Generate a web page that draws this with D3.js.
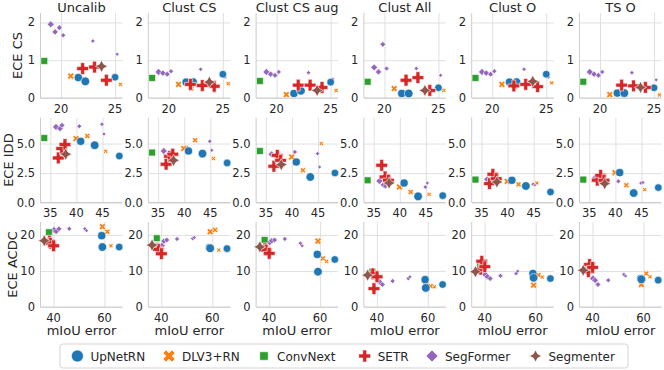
<!DOCTYPE html>
<html>
<head>
<meta charset="utf-8">
<script src="https://cdn.jsdelivr.net/npm/d3@7"></script>
<style>
  body { margin: 0; background: #fff; }
  text { font-family: "DejaVu Sans", sans-serif; fill: #262626; }
</style>
</head>
<body>
<svg width="664" height="370"></svg>
<script>
// column titles and row labels
const columns = ["Uncalib", "Clust CS", "Clust CS aug", "Clust All", "Clust O", "TS O"];
const rowLabels = ["ECE CS", "ECE IDD", "ECE ACDC"];
const modelNames = ["UpNetRN", "DLV3+RN", "ConvNext", "SETR", "SegFormer", "Segmenter"];

// one entry per model variant (same order in every array below)
const pointModel = [0, 0, 0, 1, 1, 1, 2, 3, 3, 3, 4, 4, 4, 4, 4, 4, 5];
const pointParams = [130, 150, 110, 75, 45, 15, 200, 310, 310, 310, 85, 64, 47, 27, 14, 4, 330];

// mIoU error per dataset
const errCS = [21.6, 22.25, 25.0, 20.9, 22.1, 25.5, 18.45, 22.0, 23.1, 24.2, 19.05, 19.45, 19.85, 20.2, 22.95, 25.2, 23.75];
const errIDD = [40.82, 43.5, 48.22, 39.92, 42.09, 45.61, 33.84, 36.53, 37.18, 37.81, 36.09, 36.86, 37.24, 40.55, 44.9, 45.28, 37.95];
const errACDC = [58.9, 59.17, 65.76, 59.17, 61.1, 62.55, 38.23, 38.39, 38.85, 40.04, 40.22, 41.05, 42.14, 46.17, 52.31, 52.95, 36.37];

// ECE per column (Uncalib, Clust CS, Clust CS aug, Clust All, Clust O, TS O)
const eceCS = [
  [0.54, 0.44, 0.55, 0.58, 0.5, 0.36, 0.98, 0.78, 0.82, 0.47, 1.95, 1.75, 1.86, 1.66, 1.51, 1.16, 0.84],
  [0.42, 0.42, 0.63, 0.36, 0.25, 0.38, 0.53, 0.36, 0.33, 0.31, 0.69, 0.66, 0.63, 0.71, 0.76, 0.55, 0.42],
  [0.12, 0.19, 0.42, 0.09, 0.2, 0.2, 0.45, 0.34, 0.34, 0.28, 0.69, 0.63, 0.6, 0.69, 0.67, 0.5, 0.2],
  [0.12, 0.12, 0.27, 0.25, 0.15, 0.2, 0.43, 0.47, 0.54, 0.2, 0.81, 0.69, 1.42, 0.78, 0.78, 0.6, 0.2],
  [0.42, 0.42, 0.63, 0.36, 0.3, 0.4, 0.53, 0.32, 0.36, 0.3, 0.69, 0.66, 0.63, 0.71, 0.76, 0.55, 0.44],
  [0.13, 0.13, 0.27, 0.09, 0.15, 0.08, 0.43, 0.34, 0.32, 0.28, 0.69, 0.63, 0.6, 0.69, 0.67, 0.48, 0.28]
];
const eceIDD = [
  [5.19, 4.86, 3.95, 5.42, 5.64, 4.35, 5.47, 3.78, 4.58, 4.92, 6.41, 6.27, 6.55, 6.47, 6.64, 5.81, 4.1],
  [4.37, 4.15, 3.36, 4.58, 5.28, 3.73, 4.24, 3.25, 3.92, 4.1, 4.37, 4.0, 3.8, 4.66, 5.19, 4.43, 3.58],
  [3.44, 2.17, 2.51, 3.86, 2.74, 5.0, 4.37, 3.08, 4.0, 3.58, 4.09, 3.92, 3.9, 4.29, 4.15, 3.02, 3.22],
  [1.66, 0.53, 0.59, 1.32, 0.9, 0.7, 1.89, 3.16, 2.17, 1.9, 1.83, 1.5, 1.4, 1.45, 1.32, 1.66, 1.66],
  [1.89, 1.41, 0.9, 1.8, 1.55, 1.66, 1.95, 1.61, 2.4, 2.03, 1.97, 1.9, 1.75, 1.8, 1.55, 1.5, 1.75],
  [2.54, 0.81, 1.27, 2.54, 1.47, 1.1, 1.95, 1.9, 2.31, 1.89, 2.08, 1.9, 1.8, 1.8, 1.66, 1.7, 1.61]
];
const eceACDC = [
  [19.8, 16.65, 16.65, 22.3, 20.9, 17.0, 20.75, 18.3, 17.7, 17.0, 21.4, 21.0, 21.7, 21.7, 21.7, 21.2, 18.4],
  [16.5, 16.3, 16.2, 20.9, 21.4, 15.8, 19.1, 16.3, 16.0, 14.8, 17.0, 18.3, 18.6, 18.9, 19.0, 19.3, 17.2],
  [14.6, 9.8, 13.2, 18.3, 13.5, 12.7, 18.6, 16.2, 15.8, 14.9, 17.95, 18.4, 18.6, 18.9, 17.7, 17.0, 16.7],
  [7.6, 5.3, 6.25, 6.0, 5.8, 5.6, 9.8, 9.2, 5.1, 8.4, 7.45, 7.0, 6.25, 7.2, 7.9, 8.4, 8.85],
  [9.3, 8.1, 7.9, 6.05, 8.85, 8.3, 11.45, 10.5, 12.7, 11.2, 9.0, 8.4, 7.9, 8.65, 9.3, 9.95, 9.8],
  [7.9, 7.7, 7.45, 6.25, 9.3, 8.4, 10.25, 9.8, 11.8, 11.0, 7.9, 7.4, 6.25, 7.45, 9.0, 8.6, 10.2]
];

// ticks and axis limits per row
const xTicks = [[20, 25], [35, 40, 45], [40, 60]];
const yTicks = [[0, 1, 2], [0, 2.5, 5], [0, 10, 20]];
const yTickText = [["0", "1", "2"], ["0.0", "2.5", "5.0"], ["0", "10", "20"]];
const xLimits = [[18.1, 25.69], [33.12, 48.83], [34.9, 67.06]];
const yLimits = [[0, 2.25], [0, 7.2], [0, 23.6]];

const errRows = [errCS, errIDD, errACDC];
const eceRows = [eceCS, eceIDD, eceACDC];

const colors = ["#1f77b4", "#ff7f0e", "#2ca02c", "#d62728", "#9467bd", "#8c564b"];
const shapes = ["circle", "x", "square", "plus", "diamond", "star"];
const drawOrder = [4, 1, 0, 2, 3, 5];

const svg = d3.select("svg");
const axW = 82, axH = 85;
const colLeft = i => 40.5 + i * 107.8;
const rowTop = [13, 117.6, 222];
const yLabelX = [22, 13, 17];

// marker area grows with model size, like seaborn's size semantic
const areaScale = d3.scaleLinear().domain([0, 340]).range([14, 150]);

function poly(pts, s) {
  const p = d3.path();
  pts.forEach((q, i) => i ? p.lineTo(q[0] * s, q[1] * s) : p.moveTo(q[0] * s, q[1] * s));
  p.closePath();
  return p.toString();
}

function markerPath(shape, span) {
  if (shape === "circle") {
    const p = d3.path();
    p.arc(0, 0, span / 2, 0, 2 * Math.PI);
    return p.toString();
  }
  if (shape === "square") {
    const h = span / 2 / Math.SQRT2;
    return poly([[-1, -1], [1, -1], [1, 1], [-1, 1]], h);
  }
  if (shape === "diamond") {
    return poly([[0, -0.5], [0.5, 0], [0, 0.5], [-0.5, 0]], span);
  }
  if (shape === "plus") {
    return poly([[-1, -3], [1, -3], [1, -1], [3, -1], [3, 1], [1, 1], [1, 3], [-1, 3], [-1, 1], [-3, 1], [-3, -1], [-1, -1]], span / 6);
  }
  if (shape === "x") {
    return poly([[-1, -2], [0, -1], [1, -2], [2, -1], [1, 0], [2, 1], [1, 2], [0, 1], [-1, 2], [-2, 1], [-1, 0], [-2, -1]], span / 4);
  }
  // four-pointed star
  const pts = [];
  for (let k = 0; k < 8; k++) {
    const a = -Math.PI / 2 + k * Math.PI / 4;
    const r = k % 2 ? 0.25 : 0.5;
    pts.push([r * Math.cos(a), r * Math.sin(a)]);
  }
  return poly(pts, span);
}

function gridOnly(g) {
  g.select(".domain").remove();
  g.selectAll(".tick line").attr("stroke", "#dcdcdc").attr("stroke-width", 0.9);
  g.selectAll(".tick text").remove();
}

const yLabelSpots = [];

eceRows.forEach((panels, r) => {
  const x = d3.scaleLinear().domain(xLimits[r]).range([0, axW]);
  const y = d3.scaleLinear().domain(yLimits[r]).range([axH, 0]);

  panels.forEach((vals, c) => {
    const left = colLeft(c);
    const g = svg.append("g").attr("transform", `translate(${left},${rowTop[r]})`);

    // grid lines from the axes
    g.append("g")
      .attr("transform", `translate(0,${axH})`)
      .call(d3.axisBottom(x).tickValues(xTicks[r]).tickSize(-axH))
      .call(gridOnly);
    g.append("g")
      .call(d3.axisLeft(y).tickValues(yTicks[r]).tickSize(-axW))
      .call(gridOnly);

    // x tick labels
    g.selectAll("text.xt")
      .data(xTicks[r])
      .enter()
      .append("text")
      .attr("class", "xt")
      .attr("x", d => x(d))
      .attr("y", axH + 14.5)
      .attr("text-anchor", "middle")
      .attr("font-size", 11.5)
      .text(d => String(d));

    // y tick label spots, drawn at the end
    yTicks[r].forEach((t, k) => {
      yLabelSpots.push({ x: left - 5.5, y: rowTop[r] + y(t) + 4, label: yTickText[r][k] });
    });

    // spines
    g.append("line").attr("x1", 0).attr("x2", 0).attr("y1", 0).attr("y2", axH)
      .attr("stroke", "#cccccc").attr("stroke-width", 1);
    g.append("line").attr("x1", 0).attr("x2", axW).attr("y1", axH).attr("y2", axH)
      .attr("stroke", "#cccccc").attr("stroke-width", 1);

    const pts = [];
    drawOrder.forEach(m => {
      pointModel.forEach((pm, i) => {
        if (pm === m) pts.push({ m, err: errRows[r][i], ece: vals[i], params: pointParams[i] });
      });
    });

    g.selectAll("path.pt")
      .data(pts)
      .enter()
      .append("path")
      .attr("class", "pt")
      .attr("transform", d => `translate(${x(d.err)},${y(d.ece)})`)
      .attr("d", d => markerPath(shapes[d.m], Math.sqrt(areaScale(d.params))))
      .attr("fill", d => colors[d.m])
      .attr("stroke", "#fff")
      .attr("stroke-width", 0.6);

    if (r === 0) {
      g.append("text")
        .attr("x", axW / 2).attr("y", -1.5)
        .attr("text-anchor", "middle")
        .attr("font-size", 13)
        .text(columns[c]);
    }
    if (r === 2) {
      g.append("text")
        .attr("x", axW / 2).attr("y", axH + 28)
        .attr("text-anchor", "middle")
        .attr("font-size", 13)
        .text("mIoU error");
    }
  });

  svg.append("text")
    .attr("transform", `translate(${yLabelX[r]},${rowTop[r] + axH / 2}) rotate(-90)`)
    .attr("text-anchor", "middle")
    .attr("font-size", 13)
    .text(rowLabels[r]);
});

// legend
const legend = svg.append("g");
legend.append("rect")
  .attr("x", 60).attr("y", 344).attr("width", 568).attr("height", 24)
  .attr("rx", 3).attr("fill", "#fff").attr("stroke", "#d0d0d0").attr("stroke-width", 0.9);

const legendX = [77.4, 169, 264, 364.7, 432, 535.5];
modelNames.forEach((name, m) => {
  legend.append("path")
    .attr("transform", `translate(${legendX[m]},356)`)
    .attr("d", markerPath(shapes[m], 12))
    .attr("fill", colors[m])
    .attr("stroke", "#fff")
    .attr("stroke-width", 0.6);
  legend.append("text")
    .attr("x", legendX[m] + 13).attr("y", 360.5)
    .attr("font-size", 12)
    .text(name);
});

// y tick labels on top of everything
yLabelSpots.forEach(s => {
  svg.append("text")
    .attr("x", s.x)
    .attr("y", s.y)
    .attr("text-anchor", "end")
    .attr("font-size", 11.5)
    .text(s.label);
});
</script>
</body>
</html>
